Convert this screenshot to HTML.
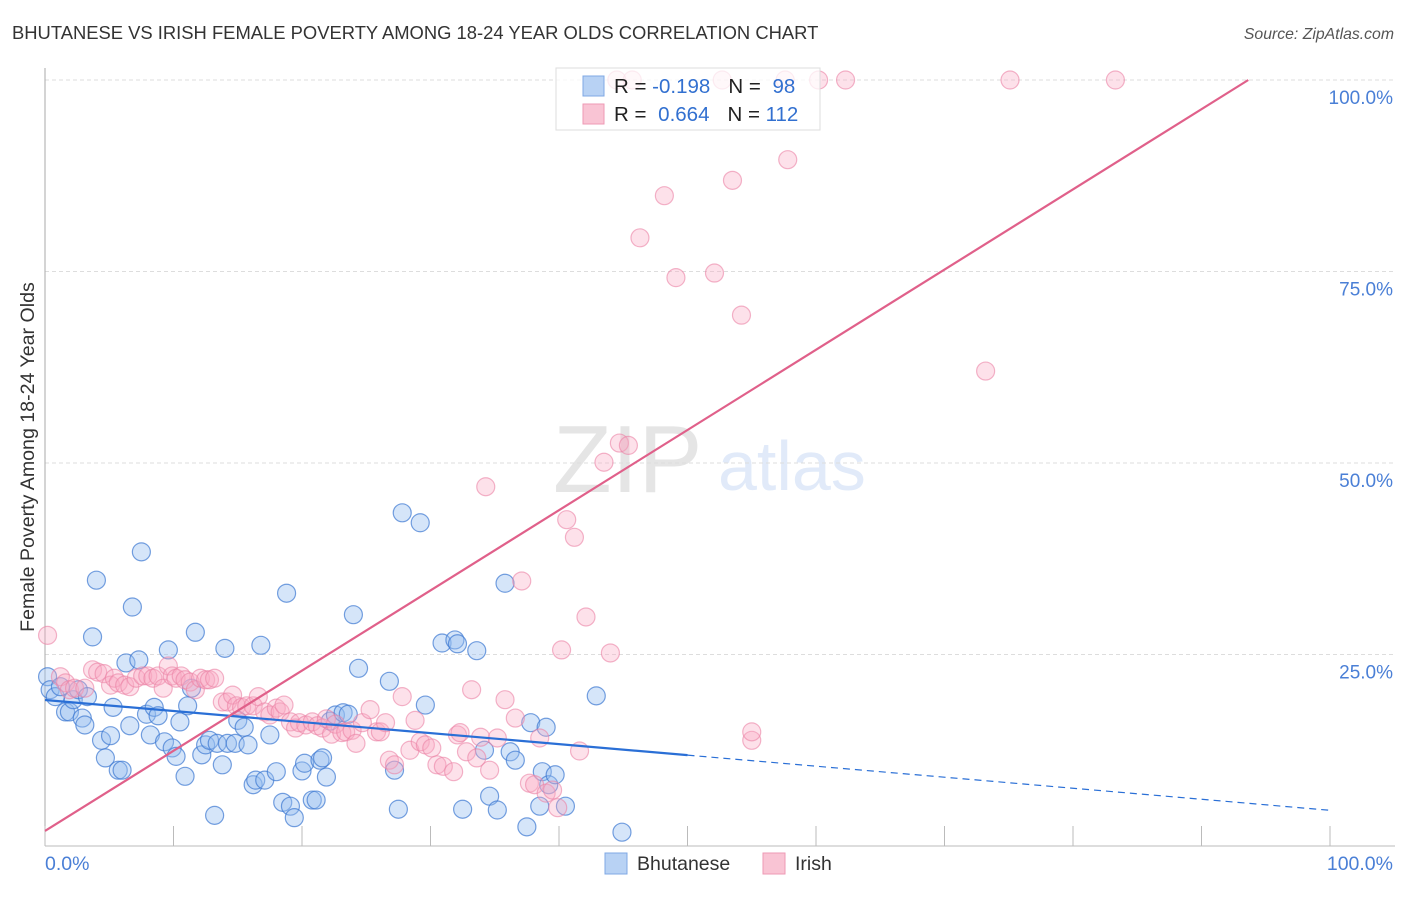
<!DOCTYPE html>
<html><head><meta charset="utf-8"><style>
body{margin:0;background:#fff;font-family:"Liberation Sans",sans-serif}
svg text{font-family:"Liberation Sans",sans-serif}
</style></head><body>
<svg id="chart" width="1406" height="892" viewBox="0 0 1406 892" xmlns="http://www.w3.org/2000/svg">
<text x="12" y="39" font-size="18.4" fill="#333">BHUTANESE VS IRISH FEMALE POVERTY AMONG 18-24 YEAR OLDS CORRELATION CHART</text>
<text x="1394" y="39" font-size="15.8" fill="#555" font-style="italic" text-anchor="end">Source: ZipAtlas.com</text>
<text transform="translate(34,457) rotate(-90)" font-size="19.6" fill="#333" text-anchor="middle">Female Poverty Among 18-24 Year Olds</text>
<g opacity="0.25">
<text x="553" y="492" font-size="96" font-family="Liberation Serif" fill="#999">ZIP</text>
<text x="718" y="490" font-size="70" fill="#8ab0e8">atlas</text>
</g>
<g id="grid"></g>
<g id="pts"></g>
<g id="lines"></g>
<g>
<rect x="556" y="68" width="264" height="62" fill="rgba(255,255,255,0.75)" stroke="#ddd"/>
<rect x="583" y="76" width="21" height="20" fill="#b8d2f4" stroke="#7fa8e4"/>
<rect x="583" y="104" width="21" height="20" fill="#f9c4d4" stroke="#ee9ab4"/>
<text x="614" y="93" font-size="20.5" fill="#222">R = <tspan fill="#3270d0" dx="0">-0.198</tspan><tspan dx="18">N = </tspan><tspan fill="#3270d0" dx="6">98</tspan></text>
<text x="614" y="121" font-size="20.5" fill="#222">R = <tspan fill="#3270d0" dx="6">0.664</tspan><tspan dx="18">N = </tspan><tspan fill="#3270d0">112</tspan></text>
</g>
<text x="45" y="870" font-size="19.5" fill="#4a7fd6">0.0%</text>
<text x="1393" y="870" font-size="19.5" fill="#4a7fd6" text-anchor="end">100.0%</text>
<rect x="605" y="853" width="22" height="21" fill="#b8d2f4" stroke="#7fa8e4"/>
<text x="637" y="870" font-size="19.5" fill="#333">Bhutanese</text>
<rect x="763" y="853" width="22" height="21" fill="#f9c4d4" stroke="#ee9ab4"/>
<text x="795" y="870" font-size="19.5" fill="#333">Irish</text>
</svg>
<script>
const yTicks=[25,50,75,100];
const yTickLabels=["25.0%","50.0%","75.0%","100.0%"];
const xTicks=[0,10,20,30,40,50,60,70,80,90,100];
const bhuX=[0.2,0.4,0.8,1.2,1.6,1.9,2.2,2.6,2.9,3.1,3.3,3.7,4.0,4.4,4.7,5.1,5.3,5.7,6.0,6.3,6.6,6.8,7.3,7.5,7.9,8.2,8.5,8.8,9.3,9.6,9.9,10.2,10.5,10.9,11.1,11.4,11.7,12.2,12.5,12.8,13.2,13.4,13.8,14.0,14.2,14.8,15.0,15.5,15.8,16.2,16.4,16.8,17.1,17.5,18.0,18.5,18.8,19.1,19.4,20.0,20.2,20.8,21.1,21.4,21.6,21.9,22.2,22.6,23.2,23.6,24.0,24.4,26.8,27.2,27.5,27.8,29.2,29.6,30.9,31.9,32.1,32.5,33.6,34.2,34.6,35.2,35.8,36.2,36.6,37.5,37.8,38.5,38.7,39.0,39.2,39.7,40.5,42.9,44.9];
const bhuY=[22.1,20.4,19.5,20.8,17.5,17.5,19.1,20.4,16.7,15.8,19.5,27.3,34.7,13.8,11.5,14.4,18.1,9.9,9.9,23.9,15.7,31.2,24.3,38.4,17.2,14.5,18.1,17.0,13.6,25.6,12.8,11.7,16.2,9.1,18.3,20.6,27.9,11.9,13.2,13.8,4.0,13.4,10.6,25.8,13.4,13.4,16.4,15.5,13.2,8.0,8.6,26.2,8.6,14.5,9.7,5.7,33.0,5.2,3.7,9.8,10.8,6.0,6.0,11.2,11.5,9.0,16.3,17.1,17.4,17.2,30.2,23.2,21.5,9.9,4.8,43.5,42.2,18.4,26.5,26.9,26.4,4.8,25.5,12.5,6.5,4.7,34.3,12.3,11.2,2.5,16.1,5.2,9.7,15.5,8.0,9.3,5.2,19.6,1.8];
const iriX=[0.2,1.2,1.6,1.9,2.3,3.1,3.7,4.1,4.6,5.1,5.4,5.7,6.2,6.6,7.1,7.6,8.0,8.4,8.8,9.2,9.6,9.9,10.2,10.6,10.9,11.3,11.7,12.1,12.5,12.8,13.2,13.8,14.2,14.6,14.9,15.3,15.7,16.2,16.6,17.1,17.5,18.0,18.3,18.6,19.1,19.5,19.8,20.3,20.8,21.2,21.6,21.9,22.3,22.6,23.1,23.4,23.9,24.2,24.7,25.3,25.8,26.1,26.5,26.8,27.2,27.8,28.4,28.8,29.2,29.6,30.1,30.5,31.0,31.8,32.1,32.3,32.8,33.2,33.6,33.9,34.3,34.6,35.2,35.8,36.6,37.1,37.7,38.1,38.5,39.0,39.5,39.9,40.2,40.6,41.2,41.6,42.1,44.0,43.5,44.7,45.4,46.3,48.2,49.1,52.1,53.5,54.2,55.0,55.0,57.8,73.2,44.5,45.7,52.7,57.6,60.2,62.3,75.1,83.3];
const iriY=[27.5,22.1,21.3,20.4,20.6,20.6,23.0,22.7,22.5,21.0,21.9,21.3,21.0,20.8,21.9,22.2,22.2,21.9,22.2,20.6,23.5,22.2,21.9,22.2,21.7,21.4,20.4,21.9,21.7,21.7,21.9,18.8,18.8,19.7,18.3,18.1,18.3,18.3,19.5,17.5,17.1,18.0,17.5,18.4,16.2,15.4,16.1,15.8,16.2,15.7,15.4,16.6,14.6,15.9,14.8,14.9,15.1,13.4,16.1,17.8,14.9,14.9,16.1,11.2,10.6,19.5,12.5,16.4,13.6,13.2,12.8,10.6,10.4,9.7,14.5,14.8,12.3,20.4,11.5,14.2,46.9,9.9,14.1,19.1,16.7,34.6,8.2,8.0,14.1,6.9,7.3,5.0,25.6,42.6,40.3,12.4,29.9,25.2,50.1,52.6,52.3,79.4,84.9,74.2,74.8,86.9,69.3,13.8,14.9,89.6,62.0,100,100,100,100,100,100,100,100];
const bhuTrend=[19.06,-0.144];
const iriTrend=[1.96,1.047];
const NS='http://www.w3.org/2000/svg';
const X=v=>45+v*12.85, Y=v=>846-v*7.66;
function mk(tag,attrs,parent){const e=document.createElementNS(NS,tag);for(const k in attrs)e.setAttribute(k,attrs[k]);parent.appendChild(e);return e;}
const grid=document.getElementById('grid');
yTicks.forEach((t,i)=>{
 const l=mk('line',{x1:45,x2:1395,y1:Y(t),y2:Y(t),stroke:'#ddd','stroke-dasharray':'4,3'},grid);
 
 
 const tx=mk('text',{x:1393,y:Y(t)+24,'font-size':19,fill:'#4a7fd6','text-anchor':'end'},grid);
 tx.textContent=yTickLabels[i];
 
 
});
const ax=mk('line',{x1:45,x2:45,y1:68,y2:846,stroke:'#aaa'},grid);


const bx=mk('line',{x1:45,x2:1395,y1:846,y2:846,stroke:'#bbb'},grid);


xTicks.forEach(t=>{
 const l=mk('line',{x1:X(t),x2:X(t),y1:826,y2:846,stroke:'#bbb'},grid);
 
 
});
const pts=document.getElementById('pts');
bhuX.forEach((x,i)=>{
 const c=mk('circle',{cx:X(x),cy:Y(bhuY[i]),r:9,fill:'rgba(150,190,240,0.4)',stroke:'rgba(60,120,210,0.7)','stroke-width':1.2},pts);
 
 
});
iriX.forEach((x,i)=>{
 const c=mk('circle',{cx:X(x),cy:Y(iriY[i]),r:9,fill:'rgba(248,170,195,0.35)',stroke:'rgba(235,130,165,0.6)','stroke-width':1.2},pts);
 
 
});
const lines=document.getElementById('lines');
const bf=v=>bhuTrend[0]+bhuTrend[1]*v;
const b1=mk('line',{x1:X(0),y1:Y(bf(0)),x2:X(50),y2:Y(bf(50)),stroke:'#2a6fd6','stroke-width':2.2},lines);


const b2=mk('line',{x1:X(50),y1:Y(bf(50)),x2:X(100),y2:Y(bf(100)),stroke:'#2a6fd6','stroke-width':1.2,'stroke-dasharray':'7,5'},lines);


const xEnd=(100-iriTrend[0])/iriTrend[1];
const p1=mk('line',{x1:X(0),y1:Y(iriTrend[0]),x2:X(xEnd),y2:Y(100),stroke:'#e0608a','stroke-width':2.2},lines);


</script>
</body></html>
